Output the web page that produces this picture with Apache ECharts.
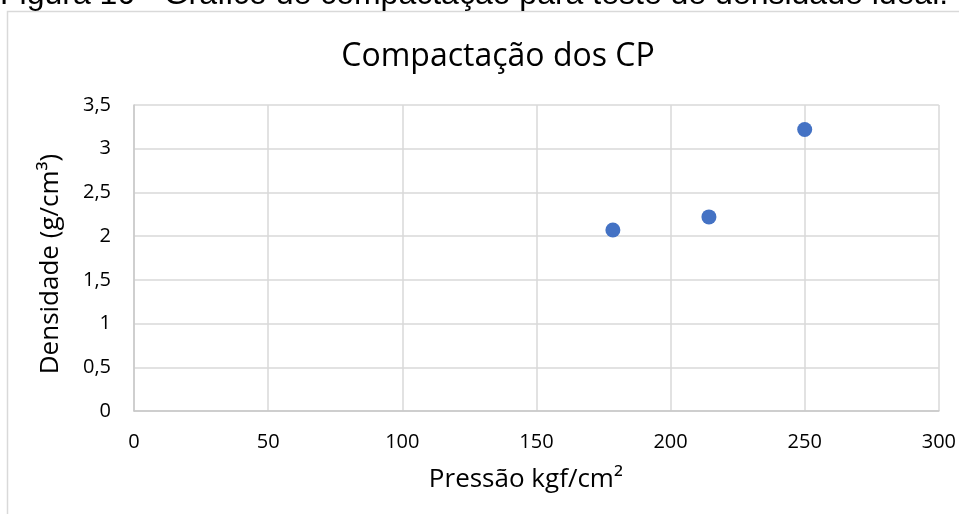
<!DOCTYPE html>
<html><head><meta charset="utf-8">
<script src="https://cdn.jsdelivr.net/npm/echarts@6/dist/echarts.min.js"></script>
<style>html,body{margin:0;padding:0;background:#fff}#c{width:959px;height:514px}</style>
</head><body><div id="c"></div>
<script>
const pressao = [178.5, 214.3, 250];
const densidade = [2.07, 2.22, 3.22];
const xTicks = [0, 50, 100, 150, 200, 250, 300];
const yTicks = [0, 0.5, 1, 1.5, 2, 2.5, 3, 3.5];

const chart = echarts.init(document.getElementById('c'), null, {renderer: 'canvas'});
const font = '"Open Sans", sans-serif';
chart.setOption({
  backgroundColor: '#fff',
  animation: false,
  graphic: [
    {type: 'rect', shape: {x: 7.5, y: 11.5, width: 1000, height: 600}, style: {fill: 'none', stroke: '#d9d9d9', lineWidth: 1.5}, z: -1},
    {type: 'text', x: 0, y: 11, style: {text: 'Figura 10 - Gráfico de compactação para teste de densidade ideal.', font: '32px "Liberation Sans", Arial, sans-serif', fill: '#000', verticalAlign: 'bottom'}}
  ],
  title: {
    text: 'Compactação dos CP', left: 493, textAlign: 'center', top: 36,
    textStyle: {fontFamily: font, fontSize: 32, fontWeight: 'normal', color: '#000'}
  },
  grid: {left: 134, right: 20, top: 105, bottom: 103},
  xAxis: {
    type: 'value', min: 0, max: 300, interval: 50,
    name: 'Pressão kgf/cm²', nameLocation: 'middle', nameGap: 56,
    nameTextStyle: {fontFamily: font, fontSize: 26, color: '#000', padding: [0, 21, 0, 0]},
    axisLine: {show: true, lineStyle: {color: '#c8c8c8', width: 1.5}},
    axisTick: {show: false},
    axisLabel: {fontFamily: font, fontSize: 20, color: '#000', margin: 21,
      formatter: v => xTicks.includes(v) ? String(v) : ''},
    splitLine: {show: true, lineStyle: {color: '#d9d9d9', width: 1.5}}
  },
  yAxis: {
    type: 'value', min: 0, max: 3.5, interval: 0.5,
    name: 'Densidade (g/cm³)', nameLocation: 'middle', nameGap: 70,
    nameTextStyle: {fontFamily: font, fontSize: 26, color: '#000', padding: [0, 12, 0, 0]},
    axisLine: {show: true, lineStyle: {color: '#c8c8c8', width: 1.5}},
    axisTick: {show: false},
    axisLabel: {fontFamily: font, fontSize: 20, color: '#000', margin: 23,
      formatter: v => yTicks.includes(v) ? String(v).replace('.', ',') : ''},
    splitLine: {show: true, lineStyle: {color: '#d9d9d9', width: 1.5}}
  },
  series: [{
    type: 'scatter',
    data: pressao.map((p, i) => [p, densidade[i]]),
    symbolSize: 15,
    itemStyle: {color: '#4472C4', opacity: 1}
  }]
});
</script></body></html>
